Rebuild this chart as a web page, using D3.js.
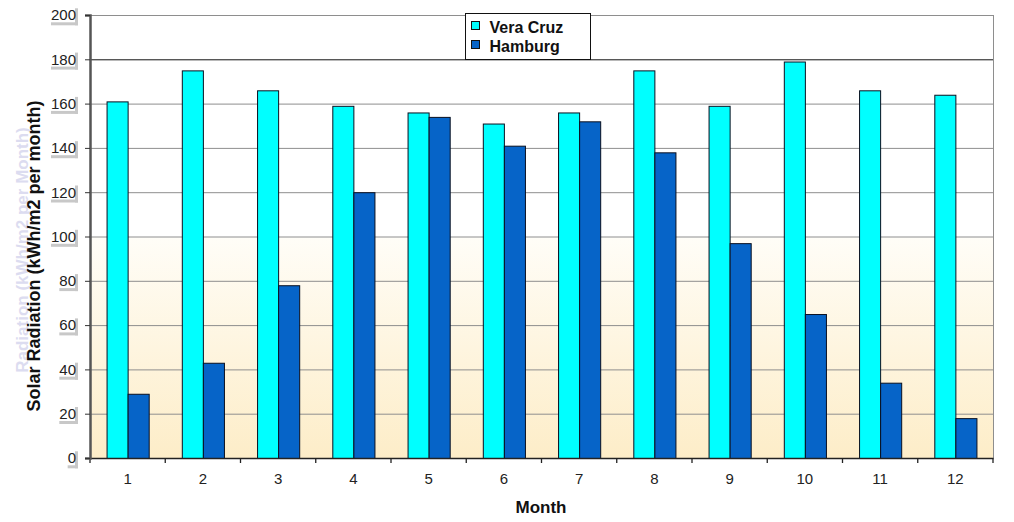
<!DOCTYPE html>
<html>
<head>
<meta charset="utf-8">
<script src="https://cdn.jsdelivr.net/npm/d3@7"></script>
<style>
  body { margin: 0; background: #fff; }
  svg { display: block; font-family: "Liberation Sans", Arial, sans-serif; }
</style>
</head>
<body>
<div id="chart"></div>
<script>
// data
let months = ['1', '2', '3', '4', '5', '6', '7', '8', '9', '10', '11', '12']
let series_names = ['Vera Cruz', 'Hamburg']
let vera_cruz = [161, 175, 166, 159, 156, 151, 156, 175, 159, 179, 166, 164]
let hamburg = [29, 43, 78, 120, 154, 141, 152, 138, 97, 65, 34, 18]
let y_ticks = [0, 20, 40, 60, 80, 100, 120, 140, 160, 180, 200]

let svgWidth = 1014
let svgHeight = 522
let padding = { left: 90, right: 21, top: 15, bottom: 64 }
let colors = { 'Vera Cruz': '#00ffff', 'Hamburg': '#0664c8' }

let svg = d3.select('#chart').append('svg')
    .attr('width', svgWidth)
    .attr('height', svgHeight)

let rows = months.map((m, i) => ({ month: m, 'Vera Cruz': vera_cruz[i], 'Hamburg': hamburg[i] }))

let x0 = d3.scaleBand()
    .domain(months)
    .range([padding.left, svgWidth - padding.right])
    .paddingInner(0.44)
    .paddingOuter(0.22)
let x1 = d3.scaleBand()
    .domain(series_names)
    .range([0, x0.bandwidth()])
let y = d3.scaleLinear()
    .domain([0, 200])
    .range([svgHeight - padding.bottom, padding.top])

let plotW = svgWidth - padding.left - padding.right
let plotH = svgHeight - padding.top - padding.bottom

// background gradient: white on top, cream towards the bottom
let defs = svg.append('defs')
let grad = defs.append('linearGradient')
    .attr('id', 'bg')
    .attr('x1', 0).attr('y1', 0).attr('x2', 0).attr('y2', 1)
grad.append('stop').attr('offset', '0%').attr('stop-color', '#ffffff')
grad.append('stop').attr('offset', '50%').attr('stop-color', '#ffffff')
grad.append('stop').attr('offset', '50.5%').attr('stop-color', '#fffdf7')
grad.append('stop').attr('offset', '100%').attr('stop-color', '#fdedc8')

svg.append('rect')
    .attr('x', padding.left)
    .attr('y', padding.top)
    .attr('width', plotW)
    .attr('height', plotH)
    .attr('fill', 'url(#bg)')

// gridlines
svg.append('g')
    .selectAll('line')
    .data(y_ticks.filter(d => d > 0))
    .enter()
    .append('line')
    .attr('x1', padding.left)
    .attr('x2', svgWidth - padding.right)
    .attr('y1', d => y(d) + 0.5)
    .attr('y2', d => y(d) + 0.5)
    .attr('stroke', d => d == 180 ? '#111' : '#8e8e8e')
    .attr('stroke-width', 1)

// right border
svg.append('line')
    .attr('x1', svgWidth - padding.right + 0.5)
    .attr('x2', svgWidth - padding.right + 0.5)
    .attr('y1', padding.top)
    .attr('y2', y(0))
    .attr('stroke', '#8e8e8e')

// bars
let groups = svg.append('g')
    .selectAll('g')
    .data(rows)
    .enter()
    .append('g')
    .attr('transform', d => `translate(${x0(d.month)}, 0)`)

groups.selectAll('rect')
    .data(d => series_names.map(s => ({ key: s, value: d[s] })))
    .enter()
    .append('rect')
    .attr('x', d => x1(d.key) + 0.5)
    .attr('y', d => y(d.value) + 0.5)
    .attr('width', x1.bandwidth())
    .attr('height', d => y(0) - y(d.value))
    .attr('fill', d => colors[d.key])
    .attr('stroke', '#0a1020')
    .attr('stroke-width', 1)

// x axis
let axis_x = d3.axisBottom(x0).tickSize(0).tickPadding(15)
let gx = svg.append('g')
    .attr('transform', `translate(0, ${y(0)})`)
    .call(axis_x)
gx.select('.domain').attr('stroke', '#222').attr('stroke-width', 1.5)
gx.selectAll('text').attr('font-size', '15px').attr('fill', '#222')
// tick marks at category boundaries
let bounds = months.map(m => x0(m) - x0.step() * x0.paddingOuter())
bounds.push(svgWidth - padding.right)
gx.selectAll('.bound')
    .data(bounds)
    .enter()
    .append('line')
    .attr('class', 'bound')
    .attr('x1', d => d)
    .attr('x2', d => d)
    .attr('y1', 0)
    .attr('y2', 5)
    .attr('stroke', '#222')
    .attr('stroke-width', 1.3)

// y axis
let axis_y = d3.axisLeft(y).tickValues(y_ticks).tickSize(5).tickPadding(9)
let gy = svg.append('g')
    .attr('transform', `translate(${padding.left}, 0)`)
    .call(axis_y)
gy.select('.domain').attr('stroke', '#555').attr('stroke-width', 2.5)
gy.selectAll('.tick line').attr('stroke', '#333')
gy.selectAll('.tick').each(function() {
    let t = d3.select(this).select('text')
        .attr('font-size', '15px')
        .attr('fill', '#222')
    let bb = t.node().getBBox()
    // light grey shadow behind labels
    d3.select(this).insert('rect', 'text')
        .attr('x', bb.x + bb.width - 1)
        .attr('y', bb.y + 2)
        .attr('width', 3)
        .attr('height', bb.height)
        .attr('fill', '#c8c8c8')
    d3.select(this).insert('rect', 'text')
        .attr('x', bb.x)
        .attr('y', bb.y + bb.height - 1)
        .attr('width', bb.width + 2)
        .attr('height', 3)
        .attr('fill', '#c8c8c8')
})

// axis titles
svg.append('text')
    .attr('transform', `translate(28, 250) rotate(-90)`)
    .attr('text-anchor', 'middle')
    .attr('font-size', '17px')
    .attr('font-weight', 'bold')
    .attr('fill', '#dcdcf0')
    .text('Radiation (kWh/m2 per Month)')

svg.append('text')
    .attr('transform', `translate(40, 256) rotate(-90)`)
    .attr('text-anchor', 'middle')
    .attr('font-size', '18px')
    .attr('font-weight', 'bold')
    .attr('fill', '#111')
    .text('Solar Radiation (kWh/m2 per month)')

svg.append('text')
    .attr('x', 541)
    .attr('y', 513)
    .attr('text-anchor', 'middle')
    .attr('font-size', '17px')
    .attr('font-weight', 'bold')
    .attr('fill', '#111')
    .text('Month')

// legend
let legend = svg.append('g').attr('transform', 'translate(465.5, 13.5)')
legend.append('rect')
    .attr('width', 125)
    .attr('height', 46)
    .attr('fill', '#fff')
    .attr('stroke', '#111')
legend.selectAll('.item')
    .data(series_names)
    .enter()
    .append('rect')
    .attr('x', 6)
    .attr('y', (d, i) => 8 + i * 19)
    .attr('width', 8)
    .attr('height', 8)
    .attr('fill', d => colors[d])
    .attr('stroke', '#111')
legend.selectAll('text')
    .data(series_names)
    .enter()
    .append('text')
    .attr('x', 24)
    .attr('y', (d, i) => 19 + i * 19)
    .attr('font-size', '16px')
    .attr('font-weight', 'bold')
    .attr('fill', '#111')
    .text(d => d)
</script>
</body>
</html>
